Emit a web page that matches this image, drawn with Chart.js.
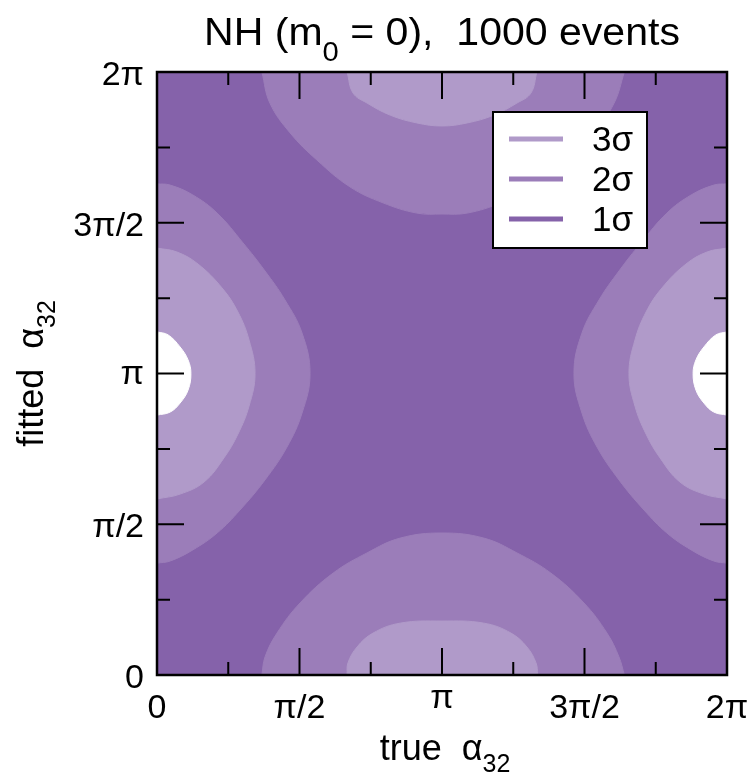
<!DOCTYPE html>
<html>
<head>
<meta charset="utf-8">
<script src="https://cdn.jsdelivr.net/npm/chart.js@4.4.0/dist/chart.umd.min.js"></script>
<style>
  html, body { margin: 0; padding: 0; background: #fff; }
</style>
</head>
<body>
<canvas id="c" width="751" height="775"></canvas>
<script>
// all angles in units of pi (axis runs 0 .. 2pi)
const xTicksMajor = [0, 0.5, 1, 1.5, 2];
const xTickLabels = ['0', 'π/2', 'π', '3π/2', '2π'];
const xTicksMinor = [0.25, 0.75, 1.25, 1.75];
const yTicksMajor = [0, 0.5, 1, 1.5, 2];
const yTickLabels = ['0', 'π/2', 'π', '3π/2', '2π'];
const yTicksMinor = [0.25, 0.75, 1.25, 1.75];

const levelLabels = ['3σ', '2σ', '1σ'];
const levelColors = ['#b09ac9', '#9b7db9', '#8562aa'];

// 1 sigma region covers the whole plane
const oneSigX = [0, 2, 2, 0];
const oneSigY = [0, 0, 2, 2];

// 2 sigma lobes
const top2X = [0.368, 0.396, 0.467, 0.561, 0.677, 0.793, 0.912, 1.0, 1.088, 1.207, 1.323, 1.439, 1.533, 1.604, 1.64];
const top2Y = [2.0, 1.897, 1.798, 1.708, 1.619, 1.566, 1.532, 1.529, 1.532, 1.566, 1.619, 1.708, 1.798, 1.897, 2.0];
const bot2X = [0.368, 0.379, 0.421, 0.502, 0.618, 0.737, 0.853, 1.0, 1.147, 1.263, 1.382, 1.498, 1.579, 1.621, 1.64];
const bot2Y = [0, 0.060, 0.139, 0.239, 0.338, 0.405, 0.454, 0.471, 0.454, 0.405, 0.338, 0.239, 0.139, 0.060, 0];
const left2X = [0, 0.046, 0.126, 0.211, 0.302, 0.379, 0.449, 0.509, 0.537, 0.509, 0.456, 0.379, 0.291, 0.211, 0.126, 0.046, 0];
const left2Y = [1.629, 1.625, 1.592, 1.532, 1.433, 1.340, 1.244, 1.134, 1.0, 0.869, 0.756, 0.647, 0.547, 0.471, 0.415, 0.378, 0.371];
const right2X = [2, 1.954, 1.874, 1.789, 1.698, 1.621, 1.551, 1.491, 1.463, 1.491, 1.544, 1.621, 1.709, 1.789, 1.874, 1.954, 2];
const right2Y = [1.629, 1.625, 1.592, 1.532, 1.433, 1.340, 1.244, 1.134, 1.0, 0.869, 0.756, 0.647, 0.547, 0.471, 0.415, 0.378, 0.371];

// 3 sigma lobes
const top3X = [0.667, 0.688, 0.737, 0.818, 0.912, 1.0, 1.088, 1.182, 1.263, 1.312, 1.333];
const top3Y = [2.0, 1.930, 1.897, 1.857, 1.831, 1.821, 1.831, 1.857, 1.897, 1.930, 2.0];
const bot3X = [0.667, 0.670, 0.702, 0.758, 0.853, 1.0, 1.147, 1.242, 1.298, 1.330, 1.336];
const bot3Y = [0, 0.040, 0.093, 0.139, 0.172, 0.179, 0.172, 0.139, 0.093, 0.040, 0];
const left3X = [0, 0.070, 0.144, 0.228, 0.284, 0.323, 0.344, 0.323, 0.284, 0.235, 0.165, 0.081, 0];
const left3Y = [1.416, 1.403, 1.363, 1.284, 1.204, 1.111, 1.0, 0.892, 0.799, 0.720, 0.640, 0.600, 0.584];
const right3X = [2, 1.930, 1.856, 1.772, 1.716, 1.677, 1.656, 1.677, 1.716, 1.765, 1.835, 1.919, 2];
const right3Y = [1.416, 1.403, 1.363, 1.284, 1.204, 1.111, 1.0, 0.892, 0.799, 0.720, 0.640, 0.600, 0.584];

// outside 3 sigma (white)
const leftHoleX = [0, 0.039, 0.081, 0.109, 0.119, 0.109, 0.081, 0.046, 0];
const leftHoleY = [1.138, 1.128, 1.088, 1.045, 1.0, 0.945, 0.902, 0.872, 0.862];
const rightHoleX = [2, 1.961, 1.919, 1.891, 1.881, 1.891, 1.919, 1.954, 2];
const rightHoleY = [1.138, 1.128, 1.088, 1.045, 1.0, 0.945, 0.902, 0.872, 0.862];

const FONT = "'Liberation Sans', Arial, Helvetica, sans-serif";

function pts(xs, ys) {
    return xs.map((x, i) => ({ x: x, y: ys[i] }));
}

function region(xs, ys, color, order, tension) {
    return {
        data: pts(xs, ys),
        fill: 'shape',
        backgroundColor: color,
        borderColor: color,
        borderWidth: 1,
        pointRadius: 0,
        tension: tension,
        order: order
    };
}

// draw text pieces side by side, [text, size, drop]; sx stretches horizontally
function rich(ctx, parts, x, y, sx) {
    sx = sx || 1;
    let w = 0;
    parts.forEach(p => { ctx.font = p[1] + 'px ' + FONT; w += ctx.measureText(p[0]).width; });
    ctx.save();
    ctx.translate(x, y);
    ctx.scale(sx, 1);
    let cx = -w / 2;
    parts.forEach(p => {
        ctx.font = p[1] + 'px ' + FONT;
        ctx.fillText(p[0], cx, p[2]);
        cx += ctx.measureText(p[0]).width;
    });
    ctx.restore();
}

const framePlugin = {
    id: 'frame',
    afterDatasetsDraw(chart) {
        const { ctx, chartArea: ca, scales: { x, y } } = chart;
        ctx.save();
        ctx.strokeStyle = '#000';
        ctx.fillStyle = '#000';

        // inner ticks on all four sides
        ctx.lineWidth = 2;
        ctx.beginPath();
        const xt = (v, len) => {
            const px = x.getPixelForValue(v);
            ctx.moveTo(px, ca.bottom); ctx.lineTo(px, ca.bottom - len);
            ctx.moveTo(px, ca.top); ctx.lineTo(px, ca.top + len);
        };
        const yt = (v, len) => {
            const py = y.getPixelForValue(v);
            ctx.moveTo(ca.left, py); ctx.lineTo(ca.left + len, py);
            ctx.moveTo(ca.right, py); ctx.lineTo(ca.right - len, py);
        };
        xTicksMajor.forEach(v => xt(v, 27));
        xTicksMinor.forEach(v => xt(v, 13));
        yTicksMajor.forEach(v => yt(v, 27));
        yTicksMinor.forEach(v => yt(v, 13));
        ctx.stroke();

        ctx.lineWidth = 2.5;
        ctx.strokeRect(ca.left, ca.top, ca.right - ca.left, ca.bottom - ca.top);

        // tick labels
        ctx.font = '34px ' + FONT;
        ctx.textBaseline = 'alphabetic';
        ctx.textAlign = 'center';
        xTicksMajor.forEach((v, i) => {
            const lab = xTickLabels[i];
            const lift = /[0-9]/.test(lab) ? 0 : 10;
            ctx.fillText(lab, x.getPixelForValue(v), ca.bottom + 43 - lift);
        });
        ctx.textAlign = 'right';
        yTicksMajor.forEach((v, i) => {
            const lab = yTickLabels[i];
            const off = /[0-9]/.test(lab) ? 13 : 10;
            ctx.fillText(lab, ca.left - 13, y.getPixelForValue(v) + off);
        });

        // title and axis titles
        ctx.textAlign = 'left';
        rich(ctx, [['NH (m', 38, 0], ['0', 27, 16], [' = 0),  1000 events', 38, 0]], (ca.left + ca.right) / 2, 45, 1.08);
        rich(ctx, [['true  α', 36, 0], ['32', 25, 12]], (ca.left + ca.right) / 2 + 3, 760);
        ctx.save();
        ctx.translate(43, (ca.top + ca.bottom) / 2);
        ctx.rotate(-Math.PI / 2);
        rich(ctx, [['fitted  α', 36, 0], ['32', 25, 12]], 0, 0);
        ctx.restore();

        // legend box
        const lx = ca.left + 336, ly = ca.top + 40, lw = 154, lh = 136;
        ctx.fillStyle = '#fff';
        ctx.fillRect(lx, ly, lw, lh);
        ctx.lineWidth = 2;
        ctx.strokeStyle = '#000';
        ctx.strokeRect(lx, ly, lw, lh);
        ctx.lineWidth = 5;
        ctx.font = '35px ' + FONT;
        ctx.textAlign = 'right';
        levelLabels.forEach((lab, i) => {
            const ry = ly + 27 + i * 40;
            ctx.strokeStyle = levelColors[i];
            ctx.beginPath();
            ctx.moveTo(lx + 16, ry);
            ctx.lineTo(lx + 70, ry);
            ctx.stroke();
            ctx.fillStyle = '#000';
            ctx.fillText(lab, lx + 140, ry + 12);
        });
        ctx.restore();
    }
};

new Chart(document.getElementById('c'), {
    type: 'line',
    data: {
        datasets: [
            region(oneSigX, oneSigY, levelColors[2], 5, 0),
            region(top2X, top2Y, levelColors[1], 4, 0.4),
            region(bot2X, bot2Y, levelColors[1], 4, 0.4),
            region(left2X, left2Y, levelColors[1], 4, 0.4),
            region(right2X, right2Y, levelColors[1], 4, 0.4),
            region(top3X, top3Y, levelColors[0], 3, 0.4),
            region(bot3X, bot3Y, levelColors[0], 3, 0.4),
            region(left3X, left3Y, levelColors[0], 3, 0.4),
            region(right3X, right3Y, levelColors[0], 3, 0.4),
            region(leftHoleX, leftHoleY, '#ffffff', 2, 0.4),
            region(rightHoleX, rightHoleY, '#ffffff', 2, 0.4)
        ]
    },
    options: {
        responsive: false,
        animation: false,
        layout: { padding: { left: 157, top: 72, right: 24, bottom: 100 } },
        plugins: { legend: { display: false }, tooltip: { enabled: false } },
        scales: {
            x: { type: 'linear', min: 0, max: 2, display: false },
            y: { type: 'linear', min: 0, max: 2, display: false }
        }
    },
    plugins: [framePlugin]
});
</script>
</body>
</html>
